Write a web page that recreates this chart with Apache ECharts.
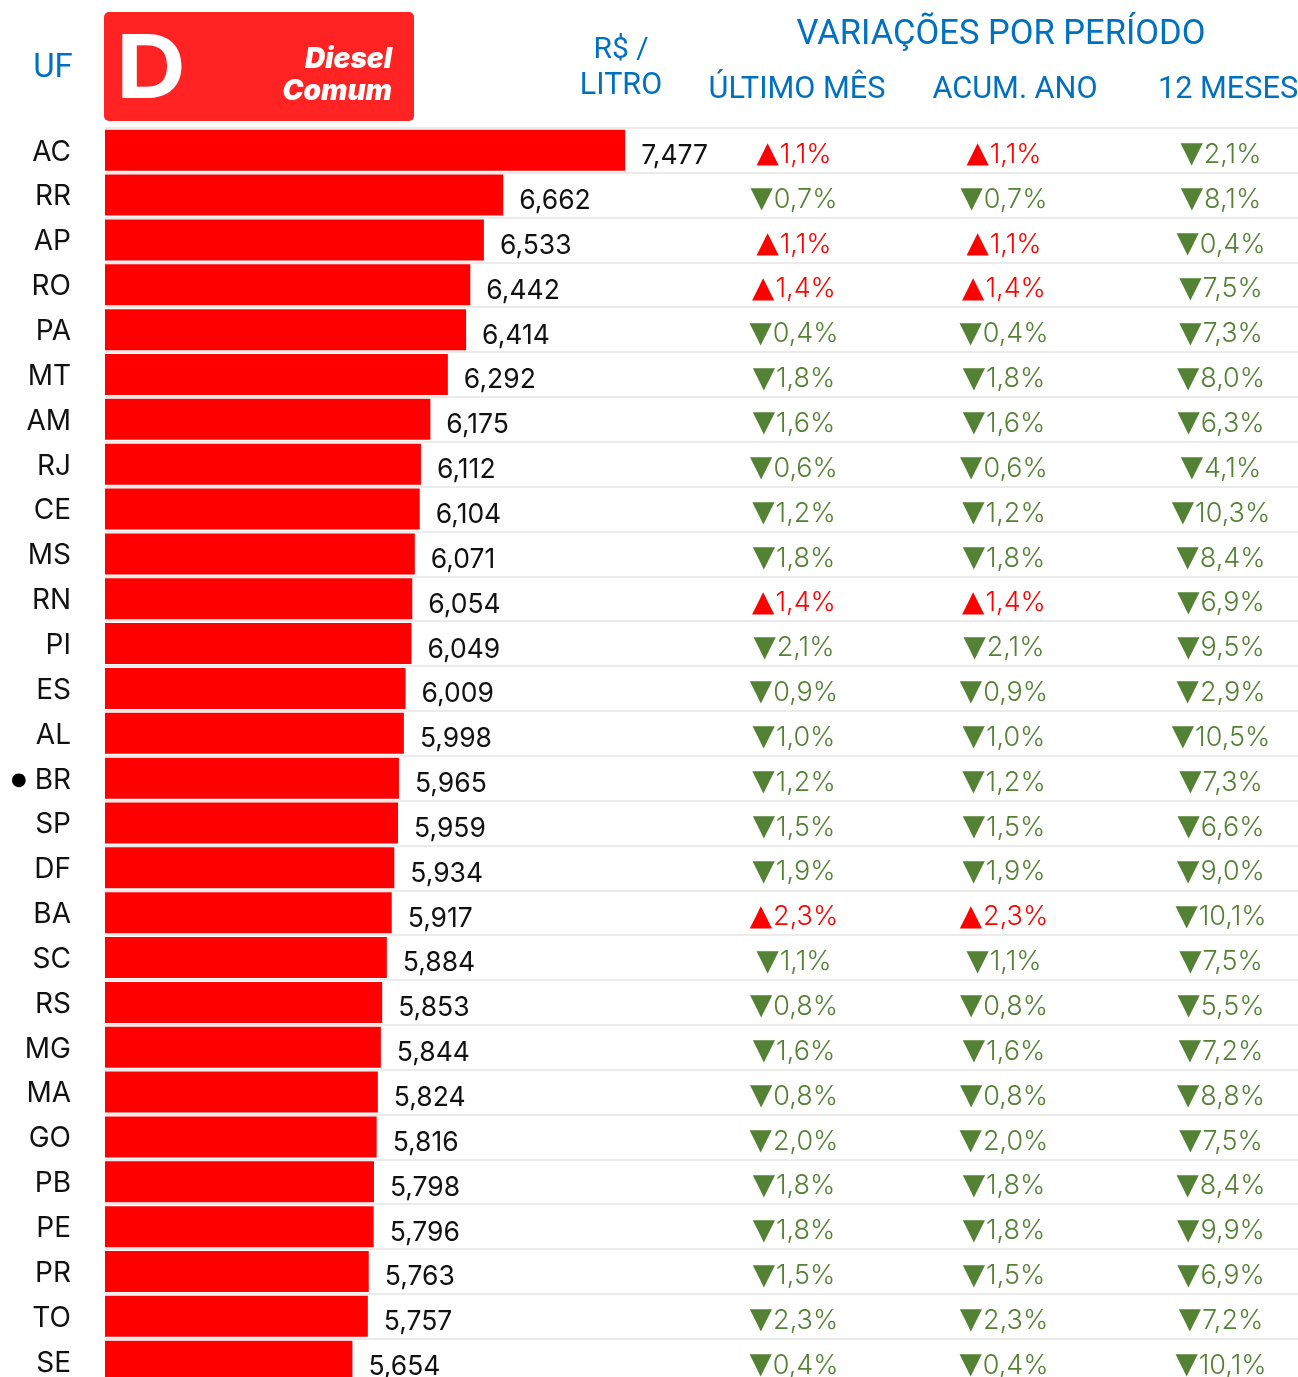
<!DOCTYPE html>
<html>
<head>
<meta charset="utf-8">
<title>Diesel Comum</title>
<style>
    html,body{margin:0;padding:0;background:#fff;height:1377px;overflow:hidden}
    /* a bit taller than the window: the last row is cut off in the picture */
    #main{width:1298px;height:1384px}
</style>
<script src="https://cdn.jsdelivr.net/npm/echarts@6/dist/echarts.min.js"></script>
</head>
<body>
<div id="main"></div>
<script>
var states = ['AC','RR','AP','RO','PA','MT','AM','RJ','CE','MS','RN','PI','ES','AL','BR','SP','DF','BA','SC','RS','MG','MA','GO','PB','PE','PR','TO','SE'];
var prices = [7.477,6.662,6.533,6.442,6.414,6.292,6.175,6.112,6.104,6.071,6.054,6.049,6.009,5.998,5.965,5.959,5.934,5.917,5.884,5.853,5.844,5.824,5.816,5.798,5.796,5.763,5.757,5.654];
var lastMonth = [1.1,-0.7,1.1,1.4,-0.4,-1.8,-1.6,-0.6,-1.2,-1.8,1.4,-2.1,-0.9,-1.0,-1.2,-1.5,-1.9,2.3,-1.1,-0.8,-1.6,-0.8,-2.0,-1.8,-1.8,-1.5,-2.3,-0.4];
var yearToDate = [1.1,-0.7,1.1,1.4,-0.4,-1.8,-1.6,-0.6,-1.2,-1.8,1.4,-2.1,-0.9,-1.0,-1.2,-1.5,-1.9,2.3,-1.1,-0.8,-1.6,-0.8,-2.0,-1.8,-1.8,-1.5,-2.3,-0.4];
var twelveMonths = [-2.1,-8.1,-0.4,-7.5,-7.3,-8.0,-6.3,-4.1,-10.3,-8.4,-6.9,-9.5,-2.9,-10.5,-7.3,-6.6,-9.0,-10.1,-7.5,-5.5,-7.2,-8.8,-7.5,-8.4,-9.9,-6.9,-7.2,-10.1];
var columns = ['ÚLTIMO MÊS','ACUM. ANO','12 MESES'];
var columnValues = [lastMonth, yearToDate, twelveMonths];

var BLUE = '#0070c0', RED = '#ff0000', GREEN = '#548235';
var TOP = 127.8, ROWS_H = 1255.8;
var numFont = 'Inter';
var headFont = 'Roboto';

var fmtPct = function (v) {
    return (v > 0 ? '{up|▲}{red|' : '{dn|▼}{green|') + Math.abs(v).toFixed(1).replace('.', ',') + '%}';
};

// bars grid runs to the right edge so the row lines do too
var grids = [{left: 105, top: TOP, width: 1193, height: ROWS_H}];
var xAxes = [{gridIndex: 0, type: 'value', min: 4, max: 11.975, show: false}];
var yAxes = [{
    gridIndex: 0,
    type: 'category',
    inverse: true,
    data: states,
    axisLine: {show: false},
    axisTick: {show: false},
    splitLine: {show: true, lineStyle: {color: '#e4e4e4', width: 1.5}},
    axisLabel: {
        margin: 34,
        color: '#111',
        fontFamily: numFont,
        fontSize: 28,
        padding: [4, 0, 0, 0],
        formatter: function (v) {
            return v == 'BR' ? '{dot|●} ' + v : v;
        },
        rich: {dot: {fontSize: 18, color: '#000', fontFamily: 'DejaVu Sans'}}
    }
}];
var series = [{
    type: 'bar',
    xAxisIndex: 0,
    yAxisIndex: 0,
    data: prices,
    barWidth: 41,
    itemStyle: {color: RED},
    z: 3,
    label: {
        show: true,
        position: 'right',
        distance: 16,
        offset: [0, 6],
        color: '#111',
        fontFamily: numFont,
        fontSize: 26.5,
        formatter: function (p) {
            return p.value.toFixed(3).replace('.', ',');
        }
    }
}];

// one little grid per variation column
var colBoxes = [[693, 200], [903, 200], [1142, 156]];
for (var c = 0; c < columns.length; c++) {
    grids.push({left: colBoxes[c][0], top: TOP, width: colBoxes[c][1], height: ROWS_H});
    xAxes.push({gridIndex: c + 1, type: 'category', data: [columns[c]], show: false});
    yAxes.push({gridIndex: c + 1, type: 'category', inverse: true, data: states, show: false});
    var pts = [];
    for (var i = 0; i < states.length; i++) {
        pts.push({value: [columns[c], states[i]], pct: columnValues[c][i]});
    }
    series.push({
        type: 'scatter',
        xAxisIndex: c + 1,
        yAxisIndex: c + 1,
        data: pts,
        symbolSize: 0,
        // scatter defaults to 0.8 and the labels inherit it
        itemStyle: {opacity: 1},
        label: {
            show: true,
            position: 'inside',
            offset: [1, 4.5],
            formatter: function (p) { return fmtPct(p.data.pct); },
            rich: {
                up: {color: RED, fontSize: 29, fontFamily: 'DejaVu Sans', padding: [0, 1, 0, 0]},
                dn: {color: GREEN, fontSize: 29, fontFamily: 'DejaVu Sans', padding: [0, 1, 0, 0]},
                red: {color: RED, fontSize: 27, fontFamily: numFont, fontWeight: 300},
                green: {color: GREEN, fontSize: 27, fontFamily: numFont, fontWeight: 300}
            }
        }
    });
}

var headText = function (x, y, text, size, align) {
    return {type: 'text', x: x, y: y, style: {text: text, fill: BLUE, fontFamily: headFont, fontSize: size, align: align || 'center', verticalAlign: 'middle'}};
};

var myChart = echarts.init(document.getElementById('main'), null, {renderer: 'canvas'});
var option = {
    animation: false,
    backgroundColor: '#fff',
    grid: grids,
    xAxis: xAxes,
    yAxis: yAxes,
    series: series,
    graphic: [
        {type: 'rect', shape: {x: 104, y: 12, width: 310, height: 109, r: 5}, style: {fill: '#ff2323'}},
        {type: 'text', x: 116, y: 72, scaleX: 1.1, style: {text: 'D', fill: '#fff', fontFamily: 'Inter', fontWeight: 'bold', fontSize: 88, verticalAlign: 'middle'}},
        {type: 'text', x: 392, y: 60, style: {text: 'Diesel', fill: '#fff', fontFamily: 'Inter', fontWeight: 900, fontStyle: 'italic', fontSize: 28, align: 'right', verticalAlign: 'middle'}},
        {type: 'text', x: 392, y: 92, style: {text: 'Comum', fill: '#fff', fontFamily: 'Inter', fontWeight: 900, fontStyle: 'italic', fontSize: 28, align: 'right', verticalAlign: 'middle'}},
        headText(53, 69, 'UF', 33),
        headText(621, 50, 'R$ /', 30),
        headText(621, 86, 'LITRO', 30.5),
        headText(1001, 35, 'VARIAÇÕES POR PERÍODO', 34.5),
        headText(797, 90, columns[0], 30.7),
        headText(1015, 90, columns[1], 30.7),
        headText(1228, 90, columns[2], 30.7)
    ]
};
myChart.setOption(option);
</script>
</body>
</html>
